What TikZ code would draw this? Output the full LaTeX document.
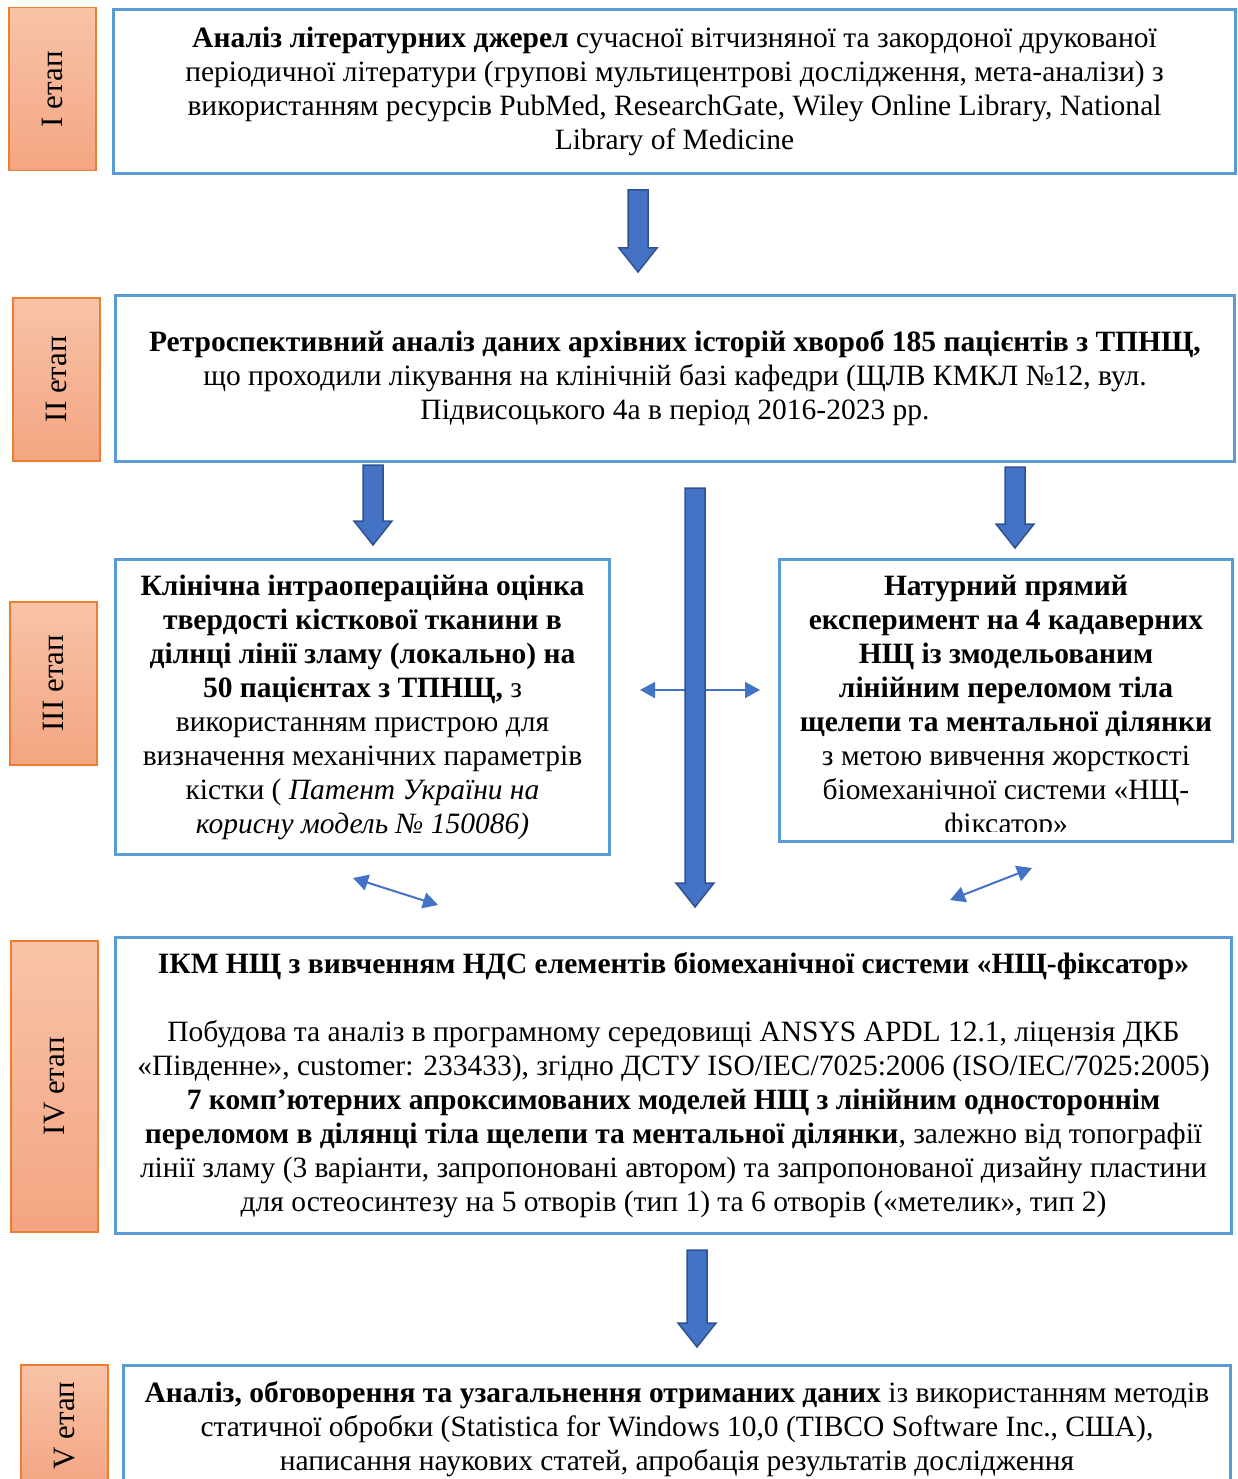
\documentclass[tikz,border=0pt]{standalone}
\usepackage{fontspec}
\setmainfont{Liberation Serif}
\usetikzlibrary{arrows.meta,positioning}
\definecolor{boxblue}{HTML}{5B9BD5}
\definecolor{arrblue}{HTML}{4472C4}
\definecolor{arrdark}{HTML}{2F528F}
\definecolor{stagetop}{HTML}{F8C3A8}
\definecolor{stagebot}{HTML}{F4A582}
\definecolor{stageline}{HTML}{ED7D31}
\tikzset{
    stage/.style={rectangle,
            draw=stageline, line width=1.5pt,
            top color=stagetop, bottom color=stagebot,
            minimum width=87pt, inner sep=0pt, anchor=north west,
            font=\fontsize{31}{36}\selectfont},
    box/.style={rectangle,
            draw=boxblue, line width=3pt, fill=white,
            inner sep=0pt, anchor=north west, align=center,
            font=\fontsize{29.5}{34}\selectfont},
    link/.style={draw=arrblue, line width=2pt,
            {Triangle[length=15pt,width=16pt]}-{Triangle[length=15pt,width=16pt]}},
    pics/down/.style={code={%
            \draw[fill=arrblue, draw=arrdark, line width=1.5pt]
               (-10,0) -- (10,0) -- (10,#1-24) -- (19,#1-24) --
               (0,#1) -- (-19,#1-24) -- (-10,#1-24) -- cycle;}},
}

\begin{document}
\begin{tikzpicture}[x=1pt,y=-1pt]
\clip (0,0) rectangle (1237,1479);
\fill[white] (0,0) rectangle (1237,1479);

% stage labels
\node[stage, minimum height=163pt] (st1) at (8,7) {\rotatebox{90}{I етап}};
\node[stage, minimum height=163pt] (st2) at (12,297) {\rotatebox{90}{II етап}};
\node[stage, minimum height=163pt] (st3) at (9,601) {\rotatebox{90}{III етап}};
\node[stage, minimum height=291pt] (st4) at (10,940) {\rotatebox{90}{IV етап}};
\node[stage, minimum height=122pt] (st5) at (20,1364) {\rotatebox{90}{V етап}};

% stage I
\node[box, minimum width=1122pt, minimum height=164pt] (lit) at (112,8) {%
\textbf{Аналіз літературних джерел} сучасної вітчизняної та закордоної друкованої\\
періодичної літератури (групові мультицентрові дослідження, мета-аналізи) з\\
використанням ресурсів PubMed, ResearchGate, Wiley Online Library, National\\
Library of Medicine};
\pic at (638,190) {down=82};

% stage II
\node[box, minimum width=1119pt, minimum height=166pt] (retro) at (114,294) {%
\textbf{Ретроспективний аналіз даних архівних історій хвороб 185 пацієнтів з ТПНЩ,}\\
що проходили лікування на клінічній базі кафедри (ЩЛВ КМКЛ №12, вул.\\
Підвисоцького 4а в період 2016-2023 рр.};
\pic at (373,465) {down=80};
\pic at (1015,467) {down=81};

% stage III
\node[box, minimum width=494pt, minimum height=295pt] (clin) at (114,558) {%
\textbf{Клінічна інтраопераційна оцінка}\\
\textbf{твердості кісткової тканини в}\\
\textbf{ділнці лінії зламу (локально) на}\\
\textbf{50 пацієнтах з ТПНЩ,} з\\
використанням пристрою для\\
визначення механічних параметрів\\
кістки ( \textit{Патент України на}\\
\textit{корисну модель № 150086)}};
\node[box, minimum width=453pt, minimum height=282pt] (exper) at (778,558) {};
\begin{scope}
\clip ([shift={(3,3)}]exper.north west) rectangle ([shift={(-3,-12)}]exper.south east);
\node[box, draw=none, fill=none, anchor=center] (expertext) at ([shift={(0,7)}]exper.center) {%
\textbf{Натурний прямий}\\
\textbf{експеримент на 4 кадаверних}\\
\textbf{НЩ із змодельованим}\\
\textbf{лінійним переломом тіла}\\
\textbf{щелепи та ментальної ділянки}\\
з метою вивчення жорсткості\\
біомеханічної системи «НЩ-\\
фіксатор»};
\end{scope}

\coordinate (hl) at (640,690);
\coordinate (hr) at (760,690);
\coordinate (dl1) at (353,878);
\coordinate (dl2) at (438,905);
\coordinate (dr1) at (950,900);
\coordinate (dr2) at (1032,868);
\draw[link] (hl) -- (hr);
\draw[link] (dl1) -- (dl2);
\draw[link] (dr1) -- (dr2);
\pic at (695,488) {down=419};

% stage IV
\node[box, minimum width=1116pt, minimum height=296pt] (ikm) at (114,936) {%
\textbf{ІКМ НЩ з вивченням НДС елементів біомеханічної системи «НЩ-фіксатор»}\\[34pt]
Побудова та аналіз в програмному середовищі ANSYS APDL 12.1, ліцензія ДКБ\\
«Південне», customer: 233433), згідно ДСТУ ISO/IEC/7025:2006 (ISO/IEC/7025:2005)\\
\textbf{7 комп’ютерних апроксимованих моделей НЩ з лінійним одностороннім}\\
\textbf{переломом в ділянці тіла щелепи та ментальної ділянки}, залежно від топографії\\
лінії зламу (3 варіанти, запропоновані автором) та запропонованої дизайну пластини\\
для остеосинтезу на 5 отворів (тип 1) та 6 отворів («метелик», тип 2)};
\pic at (697,1250) {down=97};

% stage V
\node[box, minimum width=1107pt, minimum height=128pt] (final) at (122,1364) {%
\textbf{Аналіз, обговорення та узагальнення отриманих даних} із використанням методів\\
статичної обробки (Statistica for Windows 10,0 (TIBCO Software Inc., США),\\
написання наукових статей, апробація результатів дослідження};
\end{tikzpicture}
\end{document}
